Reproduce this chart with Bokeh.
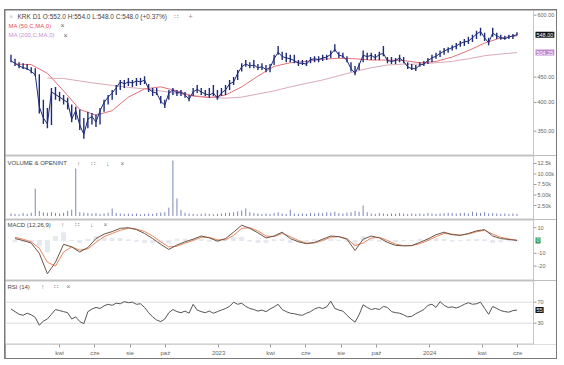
import pandas as pd
from bokeh.plotting import figure
from bokeh.layouts import column
from bokeh.models import Range1d, FixedTicker, Label, Span
from bokeh.embed import file_html
from bokeh.resources import INLINE

# ---------------- data (weekly) ----------------
week_start = "2022-01-07"

price_high = [499, 490, 482, 480, 478, 471, 469, 456, 405, 390,
              428, 430, 420, 414, 409, 396, 392, 387, 372, 383,
              381, 378, 390, 405, 414, 424, 434, 444, 444, 448,
              444, 448, 448, 452, 436, 428, 428, 412, 405, 424,
              428, 424, 424, 420, 414, 428, 434, 428, 424, 428,
              434, 424, 428, 434, 444, 450, 465, 480, 487, 482,
              487, 478, 480, 476, 478, 499, 520, 506, 504, 499,
              499, 487, 487, 487, 494, 496, 496, 499, 499, 509,
              524, 506, 504, 496, 482, 474, 480, 509, 504, 504,
              501, 506, 520, 494, 494, 492, 499, 494, 482, 478,
              476, 482, 485, 492, 499, 504, 509, 515, 517, 522,
              527, 532, 537, 543, 548, 558, 566, 553, 540, 566,
              553, 548, 545, 548, 550, 554]
price_low = [482, 474, 469, 467, 465, 458, 452, 380, 362, 355,
             360, 405, 402, 396, 387, 365, 369, 352, 338, 355,
             361, 357, 361, 383, 396, 405, 414, 424, 428, 432,
             430, 432, 434, 436, 420, 412, 414, 398, 390, 405,
             414, 412, 412, 409, 402, 412, 418, 414, 412, 409,
             412, 405, 412, 414, 424, 434, 444, 462, 472, 469,
             469, 465, 465, 460, 460, 476, 499, 487, 482, 482,
             480, 474, 476, 474, 480, 482, 482, 485, 487, 492,
             506, 492, 492, 482, 462, 454, 465, 482, 487, 487,
             487, 487, 496, 480, 478, 478, 482, 480, 467, 465,
             463, 472, 474, 478, 482, 490, 494, 499, 504, 509,
             512, 518, 520, 525, 530, 537, 545, 532, 522, 543,
             537, 535, 535, 537, 537, 546]
price_close = [485, 480, 474, 470, 468, 462, 455, 392, 372, 362,
               420, 415, 410, 405, 400, 370, 385, 360, 345, 370,
               375, 365, 385, 400, 410, 418, 428, 440, 436, 440,
               438, 442, 440, 444, 426, 420, 418, 402, 395, 418,
               424, 418, 420, 414, 406, 420, 425, 420, 416, 414,
               418, 408, 418, 424, 436, 440, 458, 472, 478, 474,
               476, 470, 472, 466, 470, 490, 505, 495, 492, 490,
               486, 480, 480, 478, 488, 490, 488, 492, 494, 500,
               512, 498, 496, 486, 468, 458, 476, 498, 495, 498,
               492, 500, 502, 486, 484, 486, 492, 484, 472, 468,
               468, 476, 478, 486, 492, 496, 502, 508, 512, 516,
               520, 526, 530, 532, 540, 550, 556, 540, 528, 552,
               545, 540, 538, 542, 545, 548]

# moving averages, every 4th week (MA50 from week 1, MA200 from week 9)
ma50 = [478, 477, 458, 422, 387, 377, 385, 410, 426, 430, 422, 412, 409, 414, 430, 452,
        473, 481, 484, 489, 491, 490, 487, 487, 486, 481, 484, 494, 509, 527, 540, 545]
ma200 = [448, 447, 442, 437, 433, 429, 426, 422, 417, 413, 410, 408, 410, 416, 422,
         430, 437, 444, 453, 462, 470, 476, 478, 478, 481, 484, 490, 497, 501, 504.25]

# volume in thousands, weekly
volume_k = [0.6, 0.5, 0.4, 0.7, 0.5, 0.8, 6.5, 1.2, 0.9, 0.8,
            0.9, 0.7, 0.6, 0.8, 1.2, 1.5, 11.3, 0.9, 0.8, 0.7,
            0.6, 0.7, 0.5, 0.6, 0.8, 1.8, 0.7, 0.6, 0.5, 0.6,
            0.5, 0.6, 0.4, 0.5, 0.6, 0.5, 0.7, 0.8, 0.9, 2.0,
            13.2, 4.2, 1.4, 0.8, 0.6, 0.5, 0.4, 0.5, 0.6, 0.5,
            0.4, 0.5, 0.6, 0.7, 0.8, 0.9, 1.1, 1.3, 1.8, 0.9,
            0.7, 0.6, 0.5, 0.6, 0.5, 0.7, 0.9, 0.6, 0.5, 1.5,
            0.6, 0.5, 0.6, 0.5, 0.7, 0.6, 0.8, 0.7, 0.9, 0.8,
            1.0, 0.7, 0.6, 0.8, 0.9, 1.2, 1.0, 2.5, 0.9, 0.6,
            0.5, 0.7, 0.6, 0.5, 0.6, 0.5, 0.7, 0.6, 0.5, 0.6,
            0.5, 0.6, 0.5, 0.7, 0.6, 0.5, 0.6, 0.7, 0.8, 0.7,
            0.6, 0.7, 0.8, 0.6, 1.0, 0.8, 0.7, 0.9, 0.6, 0.7,
            0.6, 0.5, 0.6, 0.5, 0.6, 0.5]

# MACD (12,26,9), every 2nd week from week 1
macd = [1.5, 0, -2, -10, -26, -17, -3, -5, -9, -5.5, 1.5, 5, 7, 9.5, 10, 8.5,
        5.5, 1.5, -3, -7, -3.5, -1, 1, 3.5, 2, -0.5, 1.5, 6.5, 12, 9.5, 6, 2,
        3.5, 6.5, 1.5, -1, -2.5, -1.5, 1, 3.5, 3, 1, -7.8, 1, 3.5, 2, -1.5, -3.8,
        -4.2, -4, -1.5, 1.2, 4.5, 6.5, 4.5, 4, 5.5, 7.5, 8.5, 3.5, 1.5, 0.8, 0]
signal = [2.5, 1, -1, -6, -17, -20, -9, -5, -7.5, -6.5, -1.5, 3, 5.5, 8, 9.5, 9,
          7, 3.5, -1, -5, -4.5, -2, 0, 2.5, 2.5, 0.5, 0.5, 4, 9.5, 10, 7.5, 3.5,
          3, 5.5, 3, 0, -2, -2, 0, 2.5, 3, 1.5, -4, -2, 2, 2.5, 0, -2.8,
          -4, -4, -2.5, 0, 3, 5.5, 5, 4.2, 5, 6.8, 8, 5, 2.5, 1.2, 0.3]

# RSI (14), weekly
rsi = [57, 52, 47, 45, 49, 46, 41, 26, 34, 38,
       47, 56, 54, 52, 50, 38, 42, 33, 29, 52,
       57, 60, 58, 63, 66, 64, 68, 67, 71, 69,
       70, 66, 67, 60, 50, 42, 36, 33, 38, 50,
       56, 52, 50, 53, 49, 66, 55, 52, 50, 53,
       49, 52, 55, 58, 62, 70, 66, 68, 62, 58,
       56, 53, 55, 52, 57, 61, 66, 56, 52, 49,
       48, 46, 45, 49, 52, 57, 60, 58, 61, 72,
       58, 55, 53, 45, 38, 32, 46, 65, 60, 56,
       58, 56, 62, 60, 52, 50, 49, 46, 42, 43,
       48, 52, 56, 64, 66, 60, 71, 64, 60, 61,
       59, 62, 66, 69, 66, 67, 70, 58, 47, 62,
       58, 54, 52, 51, 54, 55]

tick_dates = ["2022-04-01", "2022-06-01", "2022-08-01", "2022-10-01", "2023-01-01",
              "2023-04-01", "2023-06-01", "2023-08-01", "2023-10-01", "2024-01-01",
              "2024-04-01", "2024-06-01"]
tick_labels = ["kwi", "cze", "sie", "paź", "2023", "kwi", "cze", "sie", "paź", "2024", "kwi", "cze"]

price_ticks = [350, 400, 450, 600]
price_tick_labels = ["350.00", "400.00", "450.00", "600.00"]
vol_ticks = [2.5, 5, 7.5, 10, 12.5]
vol_tick_labels = ["2.50k", "5.00k", "7.50k", "10.00k", "12.5k"]
macd_ticks = [10, -10, -20]
macd_tick_labels = ["10", "-10", "-20"]
rsi_ticks = [70, 30]
rsi_tick_labels = ["70", "30"]

header_text = "KRK D1 O:552.0 H:554.0 L:548.0 C:548.0 (+0.37%)"
last_close_label = "548.00"
ma200_label = "504.25"
rsi_last_label = "55"

# ---------------- layout helpers ----------------
dates = pd.date_range(week_start, periods=len(price_close), freq="7D")
ma50_dates = dates[1::4]
ma200_dates = dates[9::4]
macd_dates = dates[1::2]
hist = [m - s for m, s in zip(macd, signal)]

FONT = "Liberation Sans"
PX_PER_DAY = 0.5783
ORIGIN = pd.Timestamp("2022-01-01")


def px2date(px):          # horizontal pixel of the page -> date
    return ORIGIN + pd.Timedelta(days=(px - 7) / PX_PER_DAY)


X_START, X_END = px2date(5), px2date(556)
X_EDGE, X_TICK = px2date(533), px2date(536)
FW = 551
EDGE_SX = 533 - 5          # screen x (frame relative) of the price-area right edge
NAVY = "#1d2b7a"
SEP = "#c6c6c6"
x_range = Range1d(X_START, X_END)


def lbl(p, x, y, text, color="#444444", size="6px", align="left", yu="screen", **kw):
    p.add_layout(Label(x=x, y=y, x_units="screen", y_units=yu, text=text,
                       text_color=color, text_font=FONT, text_font_size=size,
                       text_baseline="middle", text_align=align, **kw))


def make_fig(fh, yr, ticks, tick_labels, ytype="linear", mb=0, top_sep=True):
    p = figure(frame_width=FW, frame_height=fh, x_range=x_range, y_range=yr,
               y_axis_type=ytype, x_axis_type="datetime", y_axis_location=None,
               toolbar_location=None, output_backend="svg",
               min_border_left=0, min_border_right=0, min_border_top=0, min_border_bottom=mb)
    p.xgrid.visible = False
    p.ygrid.visible = False
    p.outline_line_color = None
    p.background_fill_color = "white"
    p.border_fill_color = "white"
    # right edge of the plotting area and panel separators
    p.add_layout(Span(location=X_EDGE.value // 10**6, dimension="height",
                      line_color=SEP, line_width=1))
    ys = [yr.start] + ([yr.end] if top_sep else [])
    p.segment(x0=[X_START] * len(ys), y0=ys, x1=[X_EDGE] * len(ys), y1=ys,
              line_color=SEP, line_width=2)
    # right-hand scale
    p.segment(x0=[X_EDGE] * len(ticks), y0=ticks, x1=[X_TICK] * len(ticks), y1=ticks,
              line_color="#999999", line_width=1)
    for t, s in zip(ticks, tick_labels):
        lbl(p, EDGE_SX + 4, t, s, color="#666666", size="5.5px", yu="data")
    return p


# price panel
pp = make_fig(145, Range1d(312.6, 613.2), price_ticks, price_tick_labels, "log", top_sep=False)
pp.xaxis.visible = False
pp.line(ma200_dates, ma200, color="#dbaab4", line_width=1)
pp.line(ma50_dates, ma50, color="#e4707a", line_width=1)
pp.segment(x0=dates, y0=price_low, x1=dates, y1=price_high, color=NAVY, line_width=1.4)
pp.line(dates, price_close, color=NAVY, line_width=1)
lbl(pp, 4, 139.5, "■", color="#d8d8d8", size="5px")
lbl(pp, 12, 139.5, header_text, size="6.5px")
lbl(pp, 168, 139.5, "∷", color="#888888", size="6.5px")
lbl(pp, 183, 139.5, "+", color="#888888", size="7px")
lbl(pp, 3, 130, "MA (50,C,MA,0)", color="#e8505a", size="6px")
lbl(pp, 55, 130, "×", color="#666666", size="7px")
lbl(pp, 3, 120.5, "MA (200,C,MA,0)", color="#c890d0", size="6px")
lbl(pp, 58, 120.5, "×", color="#666666", size="7px")
lbl(pp, EDGE_SX + 2, float(last_close_label), last_close_label, color="white", size="5.5px",
    yu="data", background_fill_color="#111111", padding=1)
lbl(pp, EDGE_SX + 2, ma200[-1], ma200_label, color="white", size="5.5px",
    yu="data", background_fill_color="#c08ad0", padding=1)

# volume panel
pv = make_fig(64, Range1d(-0.83, 14.4), vol_ticks, vol_tick_labels)
pv.xaxis.visible = False
pv.segment(x0=dates, y0=0, x1=dates, y1=volume_k, color="#7d86b8", line_width=1)
lbl(pv, 2, 56.5, "VOLUME & OPENINT", size="6px")
for xx, t in [(73, "↑"), (87, "∷"), (102, "↓"), (117, "×")]:
    lbl(pv, xx, 56.5, t, color="#777777", size="6.5px", align="center")

# MACD panel
pm = make_fig(61, Range1d(-31.25, 16.4), macd_ticks, macd_tick_labels)
pm.xaxis.visible = False
pm.vbar(x=macd_dates, top=hist, bottom=0, width=7 * 86400000, color="#e6e8ef")
pm.line(macd_dates, signal, color="#e8865e", line_width=1)
pm.line(macd_dates, macd, color="#6b5447", line_width=1)
lbl(pm, 2, 56, "MACD (12,26,9)", size="6px")
for xx, t in [(57, "↑"), (71, "∷"), (86, "↓"), (100, "×")]:
    lbl(pm, xx, 56, t, color="#777777", size="6.5px", align="center")
lbl(pm, EDGE_SX + 2, 0, "0", color="white", size="5.5px", yu="data",
    background_fill_color="#2e9a4e", padding=1)

# RSI panel
pr = make_fig(64, Range1d(-10.6, 111.3), rsi_ticks, rsi_tick_labels, mb=13)
for lv in rsi_ticks:
    pr.segment(x0=[X_START], y0=[lv], x1=[X_EDGE], y1=[lv], line_color="#dedede", line_width=1)
pr.line(dates, rsi, color="#555555", line_width=1)
lbl(pr, 2, 58, "RSI (14)", size="6px")
for xx, t in [(37, "↑"), (50, "∷"), (63, "×")]:
    lbl(pr, xx, 58, t, color="#777777", size="6.5px", align="center")
lbl(pr, EDGE_SX + 2, rsi[-1], rsi_last_label, color="white", size="5.5px", yu="data",
    background_fill_color="#111111", padding=1)

tick_ms = [pd.Timestamp(d).value // 10**6 for d in tick_dates]
xa = pr.xaxis[0]
xa.ticker = FixedTicker(ticks=tick_ms)
xa.major_label_overrides = {ms: t for ms, t in zip(tick_ms, tick_labels)}
xa.axis_line_color = None
xa.major_tick_out = 3
xa.major_tick_in = 0
xa.minor_tick_line_color = None
xa.major_tick_line_color = "#999999"
xa.major_label_text_font = FONT
xa.major_label_text_font_size = "6px"
xa.major_label_text_color = "#666666"
xa.major_label_standoff = 2

# 1px dark frame around the whole chart: children sit 1px inside a grey-backed column
pp.margin = (1, 1, 0, 1)
pv.margin = (0, 1, 0, 1)
pm.margin = (0, 1, 0, 1)
pr.margin = (0, 1, 1, 1)
layout = column(pp, pv, pm, pr, spacing=0, margin=(9, 0, 0, 4), background="#7a7a7a")

open("out.html", "w").write(file_html(layout, INLINE))
